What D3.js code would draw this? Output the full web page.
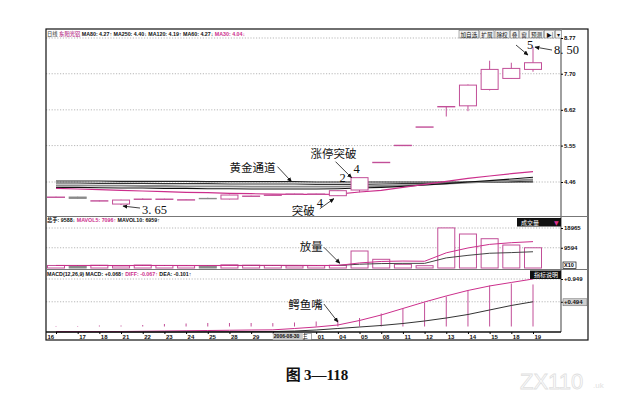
<!DOCTYPE html>
<html>
<head>
<meta charset="utf-8">
<script src="https://cdn.jsdelivr.net/npm/d3@7/dist/d3.min.js"></script>
<style>
  body { margin: 0; background: #fff; }
  svg { display: block; }
  .info { font-family: "Liberation Sans", "Noto Sans CJK SC", sans-serif; font-size: 5.3px; font-weight: bold; }
  .ax text { font-family: "Liberation Sans", sans-serif; font-size: 6px; font-weight: bold; fill: #111; }
  .note { font-family: "Noto Sans CJK SC", sans-serif; font-size: 11.5px; fill: #111; }
  .num { font-family: "Liberation Serif", serif; font-size: 12.5px; fill: #111; }
</style>
</head>
<body>
<div id="chart"></div>
<script>
// trading days (Aug 16 2006 .. Sep 19 2006)
var dates = ["16","17","18","21","22","23","24","25","28","29","30","31","01","04","05","08","11","12","13","14","15","18","19"];
var open  = [4.01,4.01,3.89,3.80,3.94,3.95,3.93,3.97,3.95,4.04,4.07,4.10,4.10,4.05,4.22,5.05,5.56,6.11,6.72,6.74,7.23,7.56,7.83];
var high  = [4.02,4.02,3.91,3.93,3.97,3.96,3.94,3.99,4.08,4.05,4.08,4.11,4.11,4.21,4.59,5.05,5.56,6.11,6.72,7.38,8.09,8.03,8.50];
var low   = [4.00,3.96,3.88,3.77,3.93,3.94,3.92,3.95,3.94,4.03,4.06,4.09,4.09,4.04,4.15,5.05,5.56,6.11,6.42,6.58,7.20,7.55,7.76];
var close = [4.01,3.97,3.90,3.92,3.95,3.95,3.93,3.96,4.07,4.04,4.07,4.10,4.10,4.20,4.59,5.05,5.56,6.11,6.72,7.36,7.83,7.86,8.03];

// price moving averages
var ma250 = [4.49,4.49,4.49,4.48,4.48,4.48,4.48,4.47,4.47,4.47,4.47,4.47,4.46,4.46,4.46,4.46,4.46,4.46,4.46,4.46,4.46,4.46,4.46];
var ma120 = [4.43,4.43,4.42,4.42,4.42,4.41,4.41,4.41,4.40,4.40,4.40,4.40,4.39,4.39,4.39,4.40,4.41,4.42,4.43,4.45,4.46,4.47,4.49];
var ma80  = [4.36,4.36,4.35,4.35,4.34,4.34,4.33,4.33,4.33,4.32,4.32,4.32,4.32,4.32,4.33,4.34,4.36,4.38,4.41,4.44,4.47,4.50,4.54];
var ma60  = [4.30,4.30,4.29,4.28,4.28,4.27,4.27,4.26,4.26,4.25,4.25,4.25,4.25,4.26,4.28,4.30,4.33,4.37,4.41,4.46,4.50,4.55,4.60];
var ma30  = [4.27,4.25,4.23,4.21,4.19,4.17,4.15,4.14,4.12,4.11,4.10,4.09,4.09,4.10,4.16,4.21,4.30,4.39,4.48,4.57,4.64,4.71,4.77];

// volume
var volume  = [1200,1100,1300,1000,1400,1200,1100,900,1500,1300,1200,1000,1100,1300,8057,4123,1754,1100,19000,16114,13886,10900,9588];
var mavol5  = [1200,1200,1200,1150,1200,1200,1200,1150,1200,1250,1250,1250,1200,1200,2400,3100,3300,3200,7200,9500,11200,12000,12500];
var mavol10 = [1200,1200,1200,1200,1200,1200,1200,1200,1200,1200,1200,1200,1200,1200,1800,2100,2200,2200,4800,6000,7000,7300,7700];

// MACD(12,26,9)
var macd = [0.01,0.01,0.02,0.02,0.03,0.05,0.06,0.07,0.07,0.07,0.068,0.08,0.10,0.13,0.17,0.26,0.36,0.48,0.60,0.72,0.82,0.86,0.84];
var diff = [-0.10,-0.10,-0.10,-0.10,-0.095,-0.09,-0.085,-0.08,-0.075,-0.07,-0.067,-0.04,-0.01,0.03,0.12,0.23,0.36,0.49,0.61,0.72,0.81,0.88,0.949];
var dea  = [-0.11,-0.11,-0.11,-0.11,-0.11,-0.11,-0.108,-0.106,-0.104,-0.102,-0.101,-0.09,-0.07,-0.04,-0.01,0.02,0.06,0.11,0.17,0.24,0.33,0.42,0.494];

// tick labels
var priceTicks = [8.77, 7.70, 6.62, 5.55, 4.46];
var volTicks = [18965, 9594];
var macdTicks = [0.949, 0.494];
var buttons = ["加自选","扩展","除权","叠","窗","预测","▶|","▾"];

var W = 631, H = 402;
var L = 46, R = 561, FR = 588, T = 29, B = 340;
var pink = "#c24f98", linePink = "#cc2f8c", gray = "#8a8a8a";

var svg = d3.select("#chart").append("svg").attr("width", W).attr("height", H);

var defs = svg.append("defs");
defs.append("marker").attr("id", "arr")
    .attr("viewBox", "0 0 8 8").attr("refX", 7).attr("refY", 4)
    .attr("markerWidth", 5).attr("markerHeight", 5)
    .attr("markerUnits", "userSpaceOnUse").attr("orient", "auto")
  .append("path").attr("d", "M0,0.5 L8,4 L0,7.5 z").attr("fill", "#111");

var x = d3.scaleLinear().domain([0, dates.length - 1]).range([56, 533]);
var yP = d3.scaleLinear().domain([4.46, 8.77]).range([182, 38]);
var yV = d3.scaleLinear().domain([0, 18965]).range([268, 228]);
var yM = d3.scaleLinear().domain([0, 0.949]).range([326.5, 279]);

var idx = d3.range(dates.length);
var cw = 17;

// gridlines
function grid(scale, ticks) {
  svg.append("g").selectAll("line").data(ticks).join("line")
    .attr("x1", L).attr("x2", R)
    .attr("y1", function(d){ return scale(d); }).attr("y2", function(d){ return scale(d); })
    .attr("stroke", "#999").attr("stroke-width", 0.7).attr("stroke-dasharray", "1.2,1.6");
}
grid(yP, priceTicks);
grid(yV, volTicks);
grid(yM, macdTicks);

// ---------- price panel ----------
var maSet = [
  {d: ma250, c: "#222", w: 1.2},
  {d: ma120, c: "#333", w: 1.1},
  {d: ma80,  c: "#8c8c8c", w: 1.8},
  {d: ma60,  c: "#111", w: 1.1},
  {d: ma30,  c: linePink, w: 1.2}
];
var lineP = d3.line().x(function(d, i){ return x(i); }).y(function(d){ return yP(d); });
maSet.forEach(function(m){
  svg.append("path").datum(m.d)
    .attr("fill", "none").attr("stroke", m.c).attr("stroke-width", m.w)
    .attr("d", lineP);
});

function isUp(i){ return close[i] >= open[i]; }

var cg = svg.append("g");
cg.selectAll("line").data(idx).join("line")
  .attr("x1", function(i){ return x(i); }).attr("x2", function(i){ return x(i); })
  .attr("y1", function(i){ return yP(high[i]); }).attr("y2", function(i){ return yP(low[i]); })
  .attr("stroke", function(i){ return isUp(i) ? pink : gray; }).attr("stroke-width", 1);
cg.selectAll("rect").data(idx).join("rect")
  .attr("x", function(i){ return x(i) - cw / 2; })
  .attr("y", function(i){ return yP(Math.max(open[i], close[i])); })
  .attr("width", cw)
  .attr("height", function(i){ return Math.max(0.4, Math.abs(yP(open[i]) - yP(close[i]))); })
  .attr("fill", function(i){ return isUp(i) ? "#fff" : gray; })
  .attr("stroke", function(i){ return isUp(i) ? pink : gray; }).attr("stroke-width", 1);

// ---------- volume panel ----------
svg.append("g").selectAll("rect").data(idx).join("rect")
  .attr("x", function(i){ return x(i) - cw / 2; })
  .attr("y", function(i){ return yV(volume[i]); })
  .attr("width", cw)
  .attr("height", function(i){ return yV(0) - yV(volume[i]); })
  .attr("fill", function(i){ return isUp(i) ? "#fff" : gray; })
  .attr("stroke", function(i){ return isUp(i) ? pink : gray; }).attr("stroke-width", 1);

var lineV = d3.line().x(function(d, i){ return x(i); }).y(function(d){ return yV(d); });
svg.append("path").datum(mavol10).attr("fill", "none").attr("stroke", "#444").attr("stroke-width", 1).attr("d", lineV);
svg.append("path").datum(mavol5).attr("fill", "none").attr("stroke", linePink).attr("stroke-width", 1).attr("d", lineV);

// ---------- MACD panel ----------
svg.append("g").selectAll("line").data(idx).join("line")
  .attr("x1", function(i){ return x(i); }).attr("x2", function(i){ return x(i); })
  .attr("y1", yM(0)).attr("y2", function(i){ return yM(macd[i]); })
  .attr("stroke", pink).attr("stroke-width", 1);
var lineM = d3.line().x(function(d, i){ return x(i); }).y(function(d){ return yM(d); });
svg.append("path").datum(dea).attr("fill", "none").attr("stroke", "#333").attr("stroke-width", 1).attr("d", lineM);
svg.append("path").datum(diff).attr("fill", "none").attr("stroke", linePink).attr("stroke-width", 1).attr("d", lineM);

// ---------- frame ----------
svg.append("rect").attr("x", L).attr("y", T).attr("width", FR - L).attr("height", B - T)
  .attr("fill", "none").attr("stroke", "#111").attr("stroke-width", 1.2);
svg.append("line").attr("x1", R).attr("x2", R).attr("y1", T).attr("y2", 332)
  .attr("stroke", "#888").attr("stroke-width", 1.6);
[216.5, 269.5].forEach(function(yy){
  svg.append("line").attr("x1", L).attr("x2", FR).attr("y1", yy).attr("y2", yy)
    .attr("stroke", "#777").attr("stroke-width", 1);
});
svg.append("line").attr("x1", L).attr("x2", R).attr("y1", 332).attr("y2", 332)
  .attr("stroke", "#111").attr("stroke-width", 1.4);

// ---------- axes ----------
var axP = svg.append("g").attr("class", "ax").attr("transform", "translate(" + R + ",0)")
  .call(d3.axisRight(yP).tickValues(priceTicks).tickSize(2).tickPadding(1).tickFormat(d3.format(".2f")));
axP.select(".domain").remove();

var axV = svg.append("g").attr("class", "ax").attr("transform", "translate(" + R + ",0)")
  .call(d3.axisRight(yV).tickValues(volTicks).tickSize(2).tickPadding(1).tickFormat(d3.format("d")));
axV.select(".domain").remove();
svg.append("rect").attr("x", R + 2).attr("y", 262).attr("width", 13).attr("height", 6.5)
  .attr("fill", "#fff").attr("stroke", "#111").attr("stroke-width", 0.7);
svg.append("text").attr("class", "info").attr("x", R + 3).attr("y", 267).style("font-size", "5.5px").text("X10");

var axM = svg.append("g").attr("class", "ax").attr("transform", "translate(" + R + ",0)")
  .call(d3.axisRight(yM).tickValues(macdTicks).tickSize(2).tickPadding(1)
    .tickFormat(function(d){ return "+" + d3.format(".3f")(d); }));
axM.select(".domain").remove();
axM.selectAll(".tick").filter(function(d){ return d === 0.494; })
  .insert("rect", "text").attr("x", 2).attr("y", -3.5).attr("width", 24).attr("height", 7)
  .attr("fill", "#cfcfcf").attr("stroke", "#666").attr("stroke-width", 0.5);

// date axis
var axD = svg.append("g").attr("class", "ax").attr("transform", "translate(0,332)")
  .call(d3.axisBottom(x).tickValues(idx).tickSize(2).tickPadding(1)
    .tickFormat(function(i){ return dates[i]; }));
axD.select(".domain").remove();
axD.selectAll(".tick text").attr("text-anchor", "start").attr("x", 1).attr("dy", "0.62em");
axD.selectAll(".tick").filter(function(i){ return i === 0; }).select("text").attr("x", L - x(0) + 1);
axD.selectAll(".tick").filter(function(i){ return i === 11; }).remove();
var sel = axD.selectAll(".tick").filter(function(i){ return i === 10; });
sel.select("text").text("2006-08-30").attr("x", 0.5).style("font-size", "5px");
sel.insert("rect", "text").attr("x", -0.5).attr("y", 1.2).attr("width", 30).attr("height", 6.6).attr("fill", "#c8c8c8");
sel.append("rect").attr("x", 31).attr("y", 1.2).attr("width", 7).attr("height", 6.6)
  .attr("fill", "#fff").attr("stroke", "#555").attr("stroke-width", 0.5);
sel.append("text").attr("x", 32).attr("y", 2.6).attr("dy", "0.62em")
  .style("font-family", "Noto Sans CJK SC").style("font-size", "5px").text("三");

// ---------- header texts ----------
function infoRow(x0, y0, parts) {
  var t = svg.append("text").attr("class", "info").attr("x", x0).attr("y", y0);
  parts.forEach(function(p){ t.append("tspan").attr("fill", p[1]).text(p[0]); });
}
infoRow(L + 1, 36, [["日线 ", "#777"], ["东阳光铝 ", pink], ["MA80: 4.27↑ MA250: 4.40↓ MA120: 4.19↑ MA60: 4.27↓ ", "#111"], ["MA30: 4.04↓", linePink]]);
infoRow(L + 1, 222, [["总手: 9588↓ ", "#111"], ["MAVOL5: 7096↑ ", linePink], ["MAVOL10: 6959↑", "#111"]]);
infoRow(L + 1, 276, [["MACD(12,26,9) MACD: +0.068↑ ", "#111"], ["DIFF: -0.067↑ ", linePink], ["DEA: -0.101↑", "#111"]]);

// toolbar buttons
var bx = 459;
buttons.forEach(function(b){
  var bg = svg.append("g").attr("transform", "translate(" + bx + ",30.5)");
  var r = bg.append("rect").attr("y", 0).attr("height", 7.5)
    .attr("fill", "#f4f4f4").attr("stroke", "#666").attr("stroke-width", 0.5);
  var t = bg.append("text").attr("x", 1.5).attr("y", 6)
    .attr("font-family", "Noto Sans CJK SC").attr("font-size", "5.6px").attr("fill", "#111").text(b);
  var w = t.node().getComputedTextLength() + 3;
  r.attr("width", w);
  bx += w + 1;
});

// panel tags
function tag(x1, y1, w, label, extra) {
  svg.append("rect").attr("x", x1).attr("y", y1).attr("width", w).attr("height", 8.5).attr("fill", "#111");
  svg.append("text").attr("x", x1 + 4).attr("y", y1 + 6.7).attr("fill", "#fff")
    .attr("font-family", "Noto Sans CJK SC").attr("font-size", "6px").text(label);
  if (extra) svg.append("text").attr("x", x1 + w - 7).attr("y", y1 + 6.7).attr("fill", "#e0308e")
    .attr("font-family", "DejaVu Sans").attr("font-size", "6px").text(extra);
}
tag(517, 218, R - 517, "成交量", "▼");
tag(530, 270.5, R - 530, "指标说明");

// ---------- annotations ----------
function arrow(x1, y1, x2, y2) {
  svg.append("line").attr("x1", x1).attr("y1", y1).attr("x2", x2).attr("y2", y2)
    .attr("stroke", "#111").attr("stroke-width", 0.8).attr("marker-end", "url(#arr)");
}
function note(xx, yy, s, anchor, cls) {
  svg.append("text").attr("class", cls || "note").attr("x", xx).attr("y", yy)
    .attr("text-anchor", anchor || "start").text(s);
}

var p;
// 3.65 low
p = [x(3) + 2, yP(low[3]) + 1];
arrow(p[0] + 17, p[1] + 2, p[0], p[1]);
note(p[0] + 19, p[1] + 8, "3. 65", "start", "num");
// golden channel
p = [x(11) - 3, yP(ma250[11])];
arrow(p[0] - 14, p[1] - 15, p[0], p[1]);
note(p[0] - 16, p[1] - 10, "黄金通道", "end");
// limit-up breakout
p = [x(14) - 8, yP(high[14])];
arrow(p[0] - 16, p[1] - 16, p[0], p[1]);
note(p[0] - 18, p[1] - 20, "涨停突破", "middle");
note(p[0] + 2, p[1] - 5, "4", "start", "num");
note(p[0] - 12, p[1] + 4, "2", "start", "num");
// breakout
p = [x(13) - 4, yP(open[13]) + 3];
arrow(p[0] - 14, p[1] + 10, p[0], p[1]);
note(p[0] - 17, p[1] + 8, "4", "start", "num");
note(p[0] - 19, p[1] + 16.5, "突破", "end");
// volume
p = [x(13) + 2, yV(volume[13]) - 2];
arrow(p[0] - 16, p[1] - 16, p[0], p[1]);
note(p[0] - 17, p[1] - 12, "放量", "end");
// crocodile mouth
p = [x(13), yM(diff[13]) - 3];
arrow(p[0] - 14, p[1] - 18, p[0], p[1]);
note(p[0] - 15, p[1] - 13, "鳄鱼嘴", "end");
// top
p = [x(22) - 5, yP(high[22]) + 8];
arrow(p[0] - 12, p[1] - 10, p[0], p[1]);
note(p[0] - 1, p[1] - 6, "5", "start", "num");
p = [x(22) + 2, yP(high[22])];
arrow(p[0] + 17, p[1] + 3, p[0], p[1]);
note(p[0] + 19, p[1] + 7, "8. 50", "start", "num");

// caption
var cap = svg.append("text").attr("x", 317).attr("y", 380).attr("text-anchor", "middle")
  .attr("font-size", "15px").attr("font-weight", "bold").attr("fill", "#111");
cap.append("tspan").attr("font-family", "Noto Sans CJK SC").text("图 ");
cap.append("tspan").attr("font-family", "Liberation Serif").text("3—118");

// faint watermark
svg.append("text").attr("x", 520).attr("y", 389).attr("font-family", "Liberation Sans")
  .attr("font-size", "22px").attr("fill", "#fff").attr("stroke", "#e0e0e0").attr("stroke-width", 0.8)
  .text("ZX110");
svg.append("text").attr("x", 593).attr("y", 388).attr("font-family", "Liberation Sans")
  .attr("font-size", "8px").attr("fill", "#e2e2e2").text(".uk");
</script>
</body>
</html>
